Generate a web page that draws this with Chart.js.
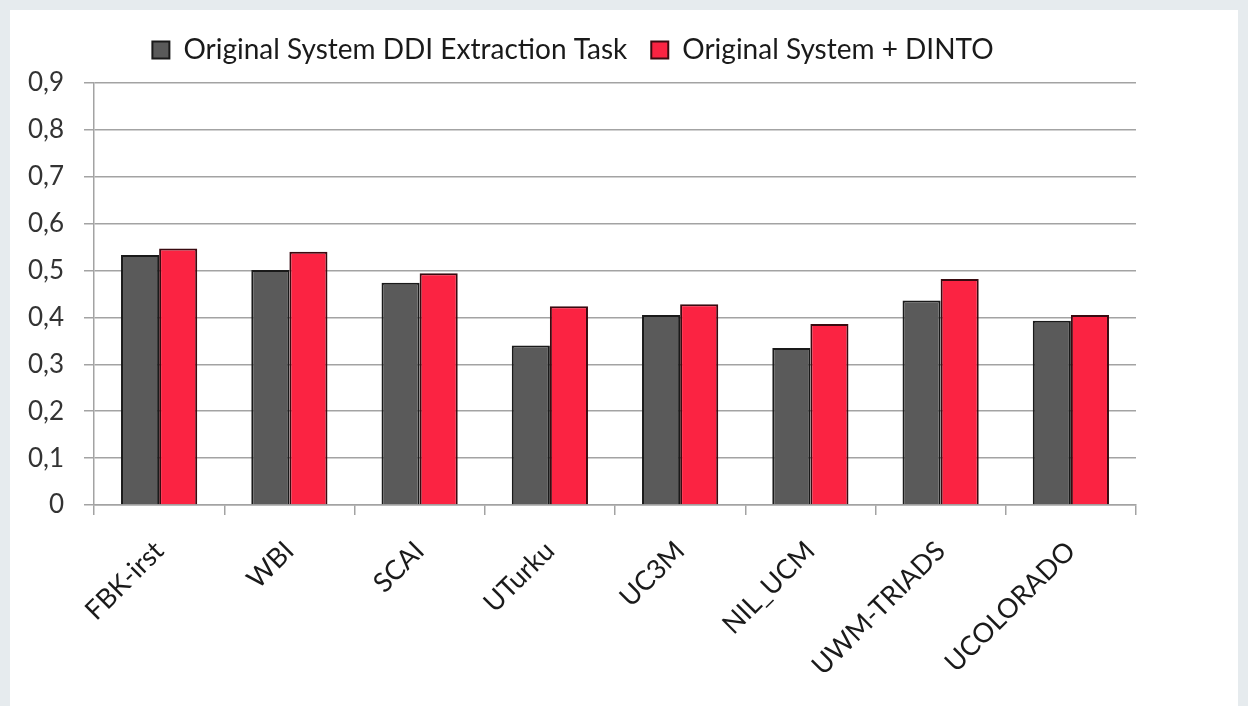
<!DOCTYPE html>
<html>
<head>
<meta charset="utf-8">
<script src="https://cdn.jsdelivr.net/npm/chart.js@4"></script>
<style>
  html, body { margin: 0; padding: 0; background: #e6ebee; }
  #card { position: absolute; left: 10px; top: 10px; width: 1228px; height: 696px; background: #fff; }
</style>
</head>
<body>
<div id="card"><canvas id="myChart" width="1228" height="696"></canvas></div>
<script>
const systems = ['FBK-irst', 'WBI', 'SCAI', 'UTurku', 'UC3M', 'NIL_UCM', 'UWM-TRIADS', 'UCOLORADO'];
const original = [0.533, 0.501, 0.474, 0.340, 0.405, 0.335, 0.436, 0.393];
const withDinto = [0.547, 0.540, 0.494, 0.424, 0.428, 0.386, 0.482, 0.405];
const yTicks = [0, 0.1, 0.2, 0.3, 0.4, 0.5, 0.6, 0.7, 0.8, 0.9];

const ctx = document.getElementById('myChart');
const gridGray = '#a3a3a3';

// a bit more room between the legend and the plot
const legendGap = {
    id: 'legendGap',
    beforeInit(chart) {
        const fit = chart.legend.fit;
        chart.legend.fit = function () {
            fit.call(this);
            this.height += 9;
        };
    }
};

new Chart(ctx, {
    type: 'bar',
    data: {
        labels: systems,
        datasets: [
            {
                label: 'Original System DDI Extraction Task',
                data: original,
                backgroundColor: '#5a5a5a',
                borderColor: '#1a1a1a',
                borderWidth: 2
            },
            {
                label: 'Original System + DINTO',
                data: withDinto,
                backgroundColor: '#fb2342',
                borderColor: '#3a0a10',
                borderWidth: 2
            }
        ]
    },
    plugins: [legendGap],
    options: {
        responsive: false,
        animation: false,
        layout: { padding: { top: 2, right: 102, left: 0, bottom: 0 } },
        datasets: {
            bar: { categoryPercentage: 0.585, barPercentage: 1 }
        },
        plugins: {
            tooltip: { enabled: false },
            legend: {
                position: 'top',
                labels: {
                    font: { family: 'Lato', size: 28 },
                    color: '#1a1a1a',
                    boxWidth: 17,
                    boxHeight: 17,
                    padding: 24
                }
            }
        },
        scales: {
            x: {
                grid: {
                    offset: true,
                    drawOnChartArea: false,
                    drawTicks: true,
                    tickLength: 10,
                    color: gridGray,
                    lineWidth: 1.5
                },
                border: { color: gridGray, width: 1.5 },
                ticks: {
                    font: { family: 'Lato', size: 27 },
                    color: '#1a1a1a',
                    minRotation: 45,
                    maxRotation: 45,
                    padding: 20
                },
                afterFit: s => { s.height = 201; }
            },
            y: {
                min: 0,
                max: 0.9,
                afterBuildTicks: s => { s.ticks = yTicks.map(v => ({ value: v })); },
                grid: {
                    color: gridGray,
                    lineWidth: 1.5,
                    tickLength: 10
                },
                border: { color: gridGray, width: 1.5 },
                ticks: {
                    font: { family: 'Lato', size: 26 },
                    color: '#333',
                    padding: 20,
                    callback: v => String(Math.round(v * 10) / 10).replace('.', ',')
                },
                afterFit: s => { s.width = 84; }
            }
        }
    }
});
</script>
</body>
</html>
